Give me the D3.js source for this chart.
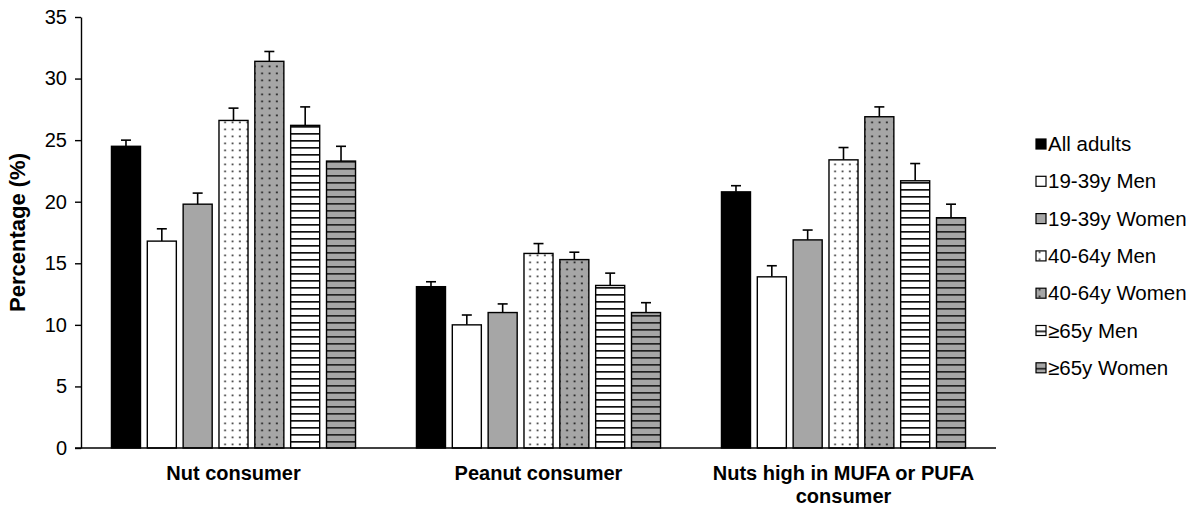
<!DOCTYPE html>
<html>
<head>
<meta charset="utf-8">
<script src="https://cdn.jsdelivr.net/npm/d3@7"></script>
<style>
  body { margin: 0; background: #fff; }
  text { font-family: "Liberation Sans", Arial, sans-serif; }
</style>
</head>
<body>
<div id="chart"></div>
<script>
const width = 1198;
const height = 508;

// categories and series
const groups = ["Nut consumer", "Peanut consumer", "Nuts high in MUFA or PUFA consumer"];
const series = ["All adults", "19-39y Men", "19-39y Women", "40-64y Men", "40-64y Women", "\u226565y Men", "\u226565y Women"];

// percentages, one array per group (same order as series)
const nutValues = [24.5, 16.8, 19.8, 26.6, 31.4, 26.2, 23.3];
const peanutValues = [13.1, 10.0, 11.0, 15.8, 15.3, 13.2, 11.0];
const mufaValues = [20.8, 13.9, 16.9, 23.4, 26.9, 21.7, 18.7];

// upper error bars (SE)
const nutErrors = [0.5, 1.0, 0.9, 1.0, 0.8, 1.5, 1.2];
const peanutErrors = [0.4, 0.8, 0.7, 0.8, 0.6, 1.0, 0.8];
const mufaErrors = [0.5, 0.9, 0.8, 1.0, 0.8, 1.4, 1.1];

const yTicks = [0, 5, 10, 15, 20, 25, 30, 35];

const allValues = [nutValues, peanutValues, mufaValues];
const allErrors = [nutErrors, peanutErrors, mufaErrors];

const svg = d3.select("#chart")
  .append("svg")
  .attr("width", width)
  .attr("height", height);

// fill patterns
const defs = svg.append("defs");
const gray = "#a6a6a6";

function dotPattern(id, bg, dot) {
  const p = defs.append("pattern").attr("id", id)
    .attr("patternUnits", "userSpaceOnUse")
    .attr("width", 7.4).attr("height", 7);
  p.append("rect").attr("width", 7.4).attr("height", 7).attr("fill", bg);
  p.append("rect").attr("x", 2.6).attr("y", 2.5).attr("width", 1.8).attr("height", 1.8).attr("fill", dot);
}
function linePattern(id, bg, line) {
  const p = defs.append("pattern").attr("id", id)
    .attr("patternUnits", "userSpaceOnUse")
    .attr("width", 8).attr("height", 7);
  p.append("rect").attr("width", 8).attr("height", 7).attr("fill", bg);
  p.append("rect").attr("y", 0).attr("width", 8).attr("height", 1.7).attr("fill", line);
}
dotPattern("dotsWhite", "#fff", "#444");
dotPattern("dotsGray", gray, "#222");
linePattern("linesWhite", "#fff", "#111");
linePattern("linesGray", gray, "#222");

const fills = ["#000", "#fff", gray, "url(#dotsWhite)", "url(#dotsGray)", "url(#linesWhite)", "url(#linesGray)"];

const y = d3.scaleLinear().domain([0, 35]).range([448, 17]);

const x0 = d3.scaleBand().domain(groups).range([81, 996]).padding(0);
const x1 = d3.scaleBand().domain(series).range([0, x0.bandwidth()])
  .paddingInner(0.19).paddingOuter(0.85);

// y axis
const yAxis = svg.append("g")
  .attr("transform", "translate(81,0)")
  .call(d3.axisLeft(y).tickValues(yTicks).tickSize(6).tickSizeOuter(0).tickPadding(8));
yAxis.select(".domain").attr("stroke", "#000").attr("stroke-width", 1.4);
yAxis.selectAll(".tick line").attr("stroke", "#000").attr("stroke-width", 1.4);
yAxis.selectAll(".tick text")
  .style("font-size", "20px")
  .attr("fill", "#000")
  .attr("font-family", "Liberation Sans, Arial, sans-serif");

// bars
const groupG = svg.selectAll("g.group")
  .data(groups)
  .enter()
  .append("g")
  .attr("class", "group")
  .attr("transform", d => "translate(" + x0(d) + ",0)");

groupG.each(function(g, gi) {
  const rows = series.map((s, i) => ({ s: s, i: i, v: allValues[gi][i], e: allErrors[gi][i] }));
  const sel = d3.select(this);

  // error bars first (behind bars)
  sel.selectAll("line.err")
    .data(rows)
    .enter()
    .append("line")
    .attr("x1", d => x1(d.s) + x1.bandwidth() / 2)
    .attr("x2", d => x1(d.s) + x1.bandwidth() / 2)
    .attr("y1", d => y(d.v))
    .attr("y2", d => y(d.v + d.e))
    .attr("stroke", "#000")
    .attr("stroke-width", 1.6);
  sel.selectAll("line.cap")
    .data(rows)
    .enter()
    .append("line")
    .attr("x1", d => x1(d.s) + x1.bandwidth() / 2 - 5)
    .attr("x2", d => x1(d.s) + x1.bandwidth() / 2 + 5)
    .attr("y1", d => y(d.v + d.e))
    .attr("y2", d => y(d.v + d.e))
    .attr("stroke", "#000")
    .attr("stroke-width", 1.6);

  sel.selectAll("rect")
    .data(rows)
    .enter()
    .append("rect")
    .attr("x", d => x1(d.s))
    .attr("y", d => y(d.v))
    .attr("width", x1.bandwidth())
    .attr("height", d => y(0) - y(d.v))
    .attr("fill", d => fills[d.i])
    .attr("stroke", "#000")
    .attr("stroke-width", 1.4);
});

// x axis line
svg.append("line")
  .attr("x1", 75).attr("x2", 996)
  .attr("y1", y(0)).attr("y2", y(0))
  .attr("stroke", "#000")
  .attr("stroke-width", 1.4);

// category labels (wrapped)
function wrapLines(text, maxChars) {
  const words = text.split(" ");
  const lines = [];
  let cur = "";
  words.forEach(w => {
    if ((cur + " " + w).trim().length > maxChars) { lines.push(cur); cur = w; }
    else cur = (cur + " " + w).trim();
  });
  lines.push(cur);
  return lines;
}

svg.selectAll("text.cat")
  .data(groups)
  .enter()
  .append("text")
  .attr("class", "cat")
  .attr("x", d => x0(d) + x0.bandwidth() / 2)
  .attr("y", 480)
  .attr("text-anchor", "middle")
  .style("font-size", "20px")
  .style("font-weight", "bold")
  .each(function(d) {
    const t = d3.select(this);
    wrapLines(d, 26).forEach((line, i) => {
      t.append("tspan")
        .attr("x", x0(d) + x0.bandwidth() / 2)
        .attr("dy", i === 0 ? 0 : "1.15em")
        .text(line);
    });
  });

// y axis title
svg.append("text")
  .attr("transform", "translate(25," + ((y(0) + y(35)) / 2) + ") rotate(-90)")
  .attr("text-anchor", "middle")
  .style("font-size", "22px")
  .style("font-weight", "bold")
  .text("Percentage (%)");

// legend
const legend = svg.selectAll("g.legend")
  .data(series)
  .enter()
  .append("g")
  .attr("class", "legend")
  .attr("transform", (d, i) => "translate(1036," + (144 + i * 37.3) + ")");

legend.append("rect")
  .attr("x", 0)
  .attr("y", -5)
  .attr("width", 10)
  .attr("height", 10)
  .attr("fill", (d, i) => fills[i])
  .attr("stroke", "#000")
  .attr("stroke-width", 1.2);

legend.append("text")
  .attr("x", 12)
  .attr("y", 0)
  .attr("dy", "0.35em")
  .style("font-size", "20.5px")
  .text(d => d);
</script>
</body>
</html>
